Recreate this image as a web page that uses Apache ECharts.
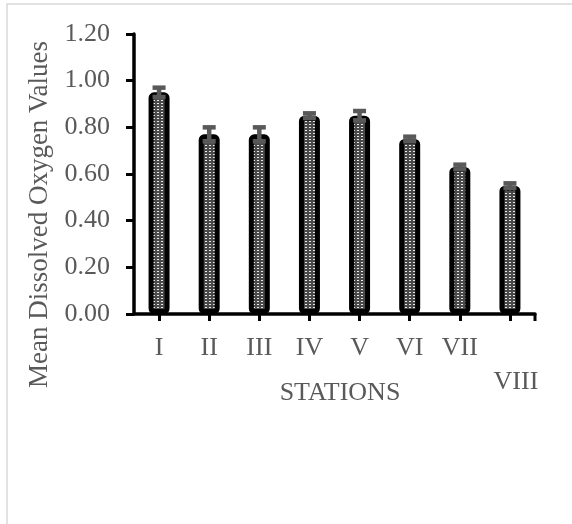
<!DOCTYPE html>
<html>
<head>
<meta charset="utf-8">
<style>
  html, body { margin: 0; padding: 0; background: #ffffff; }
  #chart { width: 572px; height: 524px; }
</style>
<script src="https://cdn.jsdelivr.net/npm/echarts@6/dist/echarts.min.js"></script>
</head>
<body>
<div id="chart"></div>
<script>
// Stations and mean dissolved oxygen with their error margins
const categories = ['I', 'II', 'III', 'IV', 'V', 'VI', 'VII', 'VIII'];
const meanDO = [0.95, 0.77, 0.77, 0.85, 0.85, 0.75, 0.63, 0.55];
const errDO = [0.02, 0.03, 0.03, 0.01, 0.02, 0.01, 0.01, 0.01];
const yMin = 0;
const yMax = 1.2;
const yStep = 0.2;

const FONT = '"Liberation Serif", "Times New Roman", serif';
const TEXT_GREY = '#595959';
const ERR_GREY = '#595959';

// small dotted fill for the bar interiors
function dotPattern() {
  const c = document.createElement('canvas');
  c.width = 4; c.height = 3;
  const g = c.getContext('2d');
  g.fillStyle = '#4a4a4a';
  g.fillRect(0, 0, 4, 3);
  g.fillStyle = '#e8e8e8';
  g.fillRect(1, 1, 2, 1);
  return c;
}

const chart = echarts.init(document.getElementById('chart'), null, { renderer: 'canvas' });

const errData = categories.map((c, i) => [i, meanDO[i] - errDO[i], meanDO[i] + errDO[i]]);

chart.setOption({
  animation: false,
  backgroundColor: '#ffffff',
  grid: { left: 134, right: 37, top: 34, bottom: 210, containLabel: false },
  xAxis: {
    type: 'category',
    data: categories,
    boundaryGap: true,
    name: 'STATIONS',
    nameLocation: 'middle',
    nameGap: 66,
    nameMoveOverlap: false,
    nameTextStyle: { fontFamily: FONT, fontSize: 26, color: TEXT_GREY, padding: [0, 0, 0, 11] },
    axisLine: { lineStyle: { color: '#000000', width: 3.5 } },
    axisTick: { show: true, alignWithLabel: true, length: 7, lineStyle: { color: '#000000', width: 3 } },
    axisLabel: {
      fontFamily: FONT, fontSize: 26, color: TEXT_GREY,
      margin: 17, lineHeight: 34, interval: 0,
      // the last station name drops to a second line
      formatter: (v, i) => (i === categories.length - 1 ? '\n{wrap|' + v + '}' : v),
      rich: {
        wrap: { fontFamily: FONT, fontSize: 26, color: TEXT_GREY, lineHeight: 34, padding: [0, 0, 0, 12] }
      }
    },
    splitLine: { show: false }
  },
  yAxis: {
    type: 'value',
    min: yMin,
    max: yMax,
    interval: yStep,
    name: 'Mean Dissolved Oxygen Values',
    nameLocation: 'middle',
    nameGap: 81,
    nameRotate: 90,
    nameMoveOverlap: false,
    nameTextStyle: { fontFamily: FONT, fontSize: 27, color: TEXT_GREY, padding: [0, 81, 0, 0] },
    axisLine: { show: true, lineStyle: { color: '#000000', width: 3.5 } },
    axisTick: { show: true, inside: false, length: 8, lineStyle: { color: '#000000', width: 3 } },
    axisLabel: {
      fontFamily: FONT, fontSize: 26, color: TEXT_GREY, margin: 24,
      formatter: v => v.toFixed(2)
    },
    splitLine: { show: false }
  },
  series: [
    {
      type: 'bar',
      data: meanDO,
      barWidth: 21,
      itemStyle: {
        color: { image: dotPattern(), repeat: 'repeat' },
        borderColor: '#000000',
        borderWidth: 5,
        borderRadius: 3
      },
      z: 2
    },
    {
      type: 'custom',
      data: errData,
      z: 5,
      renderItem: function (params, api) {
        const x = api.value(0);
        const lo = api.coord([x, api.value(1)]);
        const hi = api.coord([x, api.value(2)]);
        const half = 6.5;
        const style = { stroke: ERR_GREY, lineWidth: 4.5, fill: null };
        return {
          type: 'group',
          children: [
            { type: 'line', shape: { x1: hi[0], y1: hi[1], x2: lo[0], y2: lo[1] }, style: style },
            { type: 'line', shape: { x1: hi[0] - half, y1: hi[1], x2: hi[0] + half, y2: hi[1] }, style: style },
            { type: 'line', shape: { x1: lo[0] - half, y1: lo[1], x2: lo[0] + half, y2: lo[1] }, style: style }
          ]
        };
      }
    }
  ],
  graphic: [
    // chart frame
    { type: 'rect', shape: { x: 7, y: 4, width: 620, height: 620 },
      style: { fill: null, stroke: '#d9d9d9', lineWidth: 1.5 }, silent: true },
    // closing tick at the right end of the category axis
    { type: 'line', shape: { x1: 535, y1: 314, x2: 535, y2: 321 },
      style: { stroke: '#000000', lineWidth: 3 }, silent: true }
  ]
});
</script>
</body>
</html>
